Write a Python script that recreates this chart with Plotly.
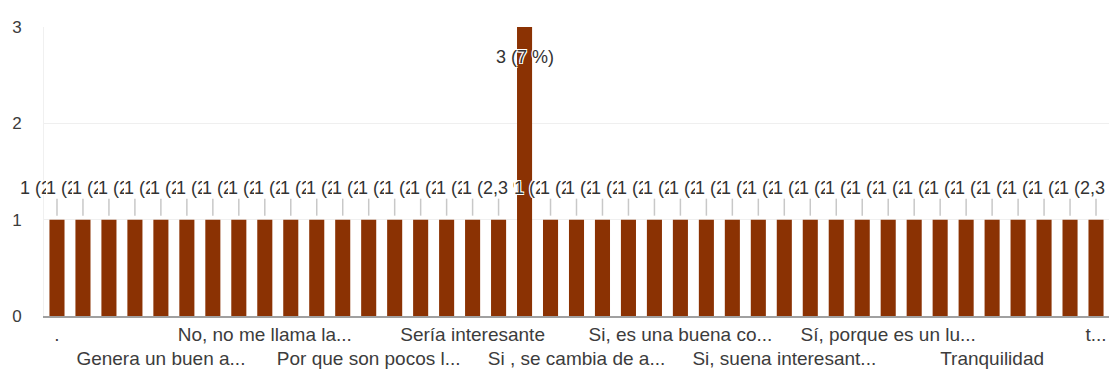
import plotly.graph_objects as go

# Responses per answer (answers sorted alphabetically, one bar each)
counts = [1, 1, 1, 1, 1, 1, 1, 1, 1, 1,
          1, 1, 1, 1, 1, 1, 1, 1, 3, 1,
          1, 1, 1, 1, 1, 1, 1, 1, 1, 1,
          1, 1, 1, 1, 1, 1, 1, 1, 1, 1,
          1]
bar_positions = list(range(len(counts)))

# Only every fourth answer gets a visible axis label
tick_positions = [0, 4, 8, 12, 16, 20, 24, 28, 32, 36, 40]
tick_labels = [".", "Genera un buen a...", "No, no me llama la...",
               "Por que son pocos l...", "Sería interesante",
               "Si , se cambia de a...", "Si, es una buena co...",
               "Si, suena interesant...", "Sí, porque es un lu...",
               "Tranquilidad", "t..."]
y_ticks = [0, 1, 2, 3]

BAR_COLOR = "#8b3203"
TEXT_COLOR = "#3c3c3c"
FONT = "Arial, Liberation Sans, sans-serif"
HALO = ("white 1px 1px 0px, white -1px -1px 0px, "
        "white 1px -1px 0px, white -1px 1px 0px")

W, H = 1109, 373
M_L, M_R, M_T, M_B = 44, 0, 27, 57
stride = (W - M_L - M_R) / len(counts)

total = sum(counts)
top = max(counts)


def pct_text(v):
    p = f"{100 * v / total:.1f}".rstrip("0").rstrip(".")
    return p.replace(".", ",")


# Alternate the visible category labels over two rows
ticktext = [t if k % 2 == 0 else "<br>" + t for k, t in enumerate(tick_labels)]

fig = go.Figure(go.Bar(
    x=bar_positions, y=counts, marker_color=BAR_COLOR,
    marker_line_width=0, hoverinfo="skip",
))

annotations = []
shapes = []
for i, v in enumerate(counts):
    label = f"{v} ({pct_text(v)} %)"
    if v == top:
        annotations.append(dict(
            x=i, y=v, xref="x", yref="y", text=label, showarrow=False,
            xanchor="center", yanchor="middle", yshift=-30,
            font=dict(family=FONT, size=18, color="#333333", shadow=HALO),
        ))
        continue
    # each label is cut where the next label on the same row starts
    nxt = i + 1
    while nxt < len(counts) and counts[nxt] == top:
        nxt += 1
    ann = dict(
        x=i, y=v, xref="x", yref="y", text=label, showarrow=False,
        xanchor="left", yanchor="middle", xshift=-38, yshift=32,
        align="left", borderpad=0,
        font=dict(family=FONT, size=18, color="#333333", shadow=HALO),
    )
    if nxt < len(counts):
        ann["width"] = stride * (nxt - i)
    annotations.append(ann)
    # leader line from label to bar top
    shapes.append(dict(
        type="line", xref="x", yref="y", x0=i, x1=i,
        ysizemode="pixel", yanchor=v, y0=4, y1=21,
        line=dict(color="#c8c8c8", width=1.5), layer="below",
    ))

fig.update_layout(
    width=W, height=H,
    margin=dict(l=M_L, r=M_R, t=M_T, b=M_B),
    paper_bgcolor="white", plot_bgcolor="white",
    bargap=0.42, showlegend=False,
    font=dict(family=FONT, size=18, color=TEXT_COLOR),
    annotations=annotations, shapes=shapes,
    xaxis=dict(
        range=[-0.5, len(counts) - 0.5], tickmode="array",
        tickvals=tick_positions, ticktext=ticktext, tickangle=0,
        showgrid=False, zeroline=False, showline=True,
        linecolor="#a0a0a0", linewidth=1.5, ticks="",
        tickfont=dict(family=FONT, size=19, color=TEXT_COLOR),
    ),
    yaxis=dict(
        range=[0, 3], tickmode="array", tickvals=y_ticks,
        showgrid=True, gridcolor="#efefef", gridwidth=1,
        zeroline=False, showline=True, linecolor="#f0f0f0",
        ticks="", ticklabelstandoff=18,
        tickfont=dict(family=FONT, size=17, color=TEXT_COLOR),
    ),
)

fig.write_html("out.html")
